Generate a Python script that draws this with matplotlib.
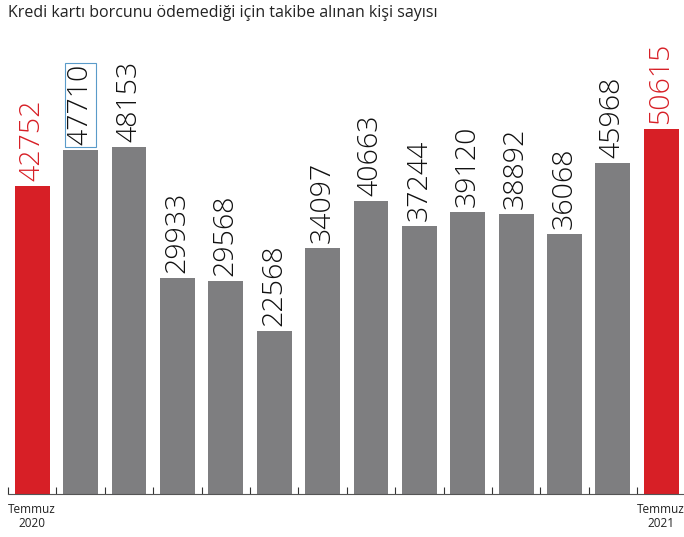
import numpy as np
import matplotlib.pyplot as plt

values = [42752, 47710, 48153, 29933, 29568, 22568, 34097,
          40663, 37244, 39120, 38892, 36068, 45968, 50615]
highlight = [0, 13]
end_labels = ["Temmuz\n2020", "Temmuz\n2021"]
title = "Kredi kartı borcunu ödemediği için takibe alınan kişi sayısı"

red = "#d71f26"
gray = "#7e7e80"

plt.rcParams['font.family'] = ['Open Sans', 'DejaVu Sans']

fig = plt.figure(figsize=(6.84, 5.37), dpi=100)
ax = fig.add_axes([0.0117, 0.080, 0.9883, 0.845])

x = np.arange(len(values))
colors = [red if i in highlight else gray for i in x]
ax.bar(x, values, width=0.72, color=colors)

# ylim chosen so that the pixel scale matches the reference
ax.set_ylim(0, 63000)
ax.set_xlim(-0.5, 13.47)

for i, v in enumerate(values):
    c = red if i in highlight else "#111111"
    box = None
    if i == 1:
        box = dict(boxstyle="square,pad=0.05", fc="none", ec="#5a9bc9", lw=0.8)
    ax.text(i, v + 700, str(v), rotation=90, ha="center", va="bottom",
            fontsize=20.5, color=c, fontweight="light", bbox=box)

for side in ["top", "right", "left"]:
    ax.spines[side].set_visible(False)
ax.spines["bottom"].set_color("#555555")
ax.spines["bottom"].set_linewidth(0.8)
ax.set_yticks([])
ax.set_xticks(np.arange(-0.5, 13, 1))
ax.set_xticklabels([])
ax.tick_params(axis="x", direction="in", length=5, width=0.8, color="#333333")

ax.text(0, -1200, end_labels[0], ha="center", va="top", fontsize=8.5,
        color="#222222", linespacing=1.1)
ax.text(13, -1200, end_labels[1], ha="center", va="top", fontsize=8.5,
        color="#222222", linespacing=1.1, clip_on=False)

fig.text(0.012, 0.975, title, ha="left", va="center", fontsize=11.5,
         color="#222222")

fig.savefig("out.png", dpi=100)
